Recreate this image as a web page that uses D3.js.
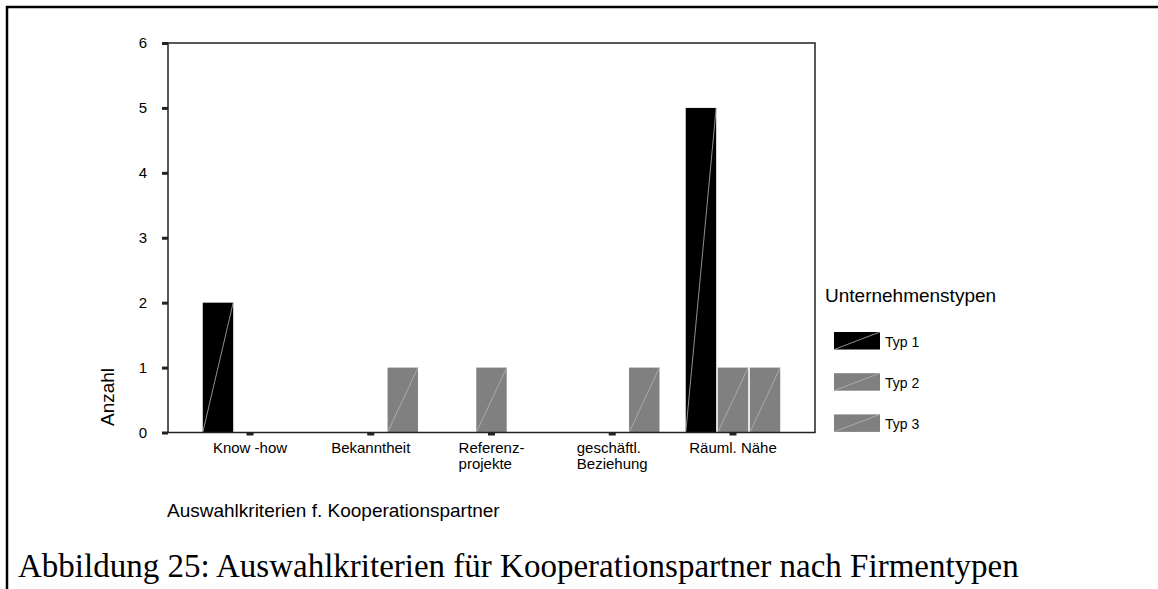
<!DOCTYPE html>
<html>
<head>
<meta charset="utf-8">
<script src="https://cdn.jsdelivr.net/npm/d3@7"></script>
<style>
  body { margin: 0; background: #fff; }
  svg { display: block; }
</style>
</head>
<body>
<div id="chart"></div>
<script>
// chart data
var categories = ["Know -how", "Bekanntheit", "Referenz-\nprojekte", "geschäftl.\nBeziehung", "Räuml. Nähe"];
var types = ["Typ 1", "Typ 2", "Typ 3"];
var typ1 = [2, 0, 0, 0, 5];
var typ2 = [0, 0, 1, 0, 1];
var typ3 = [0, 1, 0, 1, 1];
var yTicks = [0, 1, 2, 3, 4, 5, 6];
var colors = ["#000000", "#808080", "#808080"];

var W = 1158, H = 589;
var box = {left: 168, top: 43, right: 815, bottom: 432.5};
var sans = "'Liberation Sans', Arial, sans-serif";

var svg = d3.select("#chart")
  .append("svg")
    .attr("width", W)
    .attr("height", H);

// page border (left + top)
svg.append("path")
  .attr("d", "M7," + H + "V7H" + W)
  .attr("fill", "none")
  .attr("stroke", "#000")
  .attr("stroke-width", 2.5);

// scales
var x0 = d3.scaleBand()
  .domain(categories)
  .range([box.left, box.right])
  .paddingInner(0.2174)
  .paddingOuter(0.288);

var x1 = d3.scaleBand()
  .domain(types)
  .range([0, x0.bandwidth()])
  .paddingInner(0.05);

var y = d3.scaleLinear()
  .domain([0, 6])
  .range([box.bottom, box.top]);

var color = d3.scaleOrdinal().domain(types).range(colors);

// flatten into rows for drawing
var series = [typ1, typ2, typ3];
var rows = [];
categories.forEach(function(c, i) {
  types.forEach(function(t, j) {
    if (series[j][i] > 0) rows.push({cat: c, type: t, value: series[j][i]});
  });
});

var bars = svg.append("g").selectAll("g")
  .data(rows)
  .enter().append("g");

bars.append("rect")
  .attr("x", function(d) { return x0(d.cat) + x1(d.type); })
  .attr("y", function(d) { return y(d.value); })
  .attr("width", x1.bandwidth())
  .attr("height", function(d) { return y(0) - y(d.value); })
  .attr("fill", function(d) { return color(d.type); });

// the thin diagonal hatch line in each bar
bars.append("line")
  .attr("x1", function(d) { return x0(d.cat) + x1(d.type); })
  .attr("y1", y(0))
  .attr("x2", function(d) { return x0(d.cat) + x1(d.type) + x1.bandwidth(); })
  .attr("y2", function(d) { return y(d.value); })
  .attr("stroke", "#b5b5b5")
  .attr("stroke-width", 0.8);

// frame
svg.append("rect")
  .attr("x", box.left)
  .attr("y", box.top)
  .attr("width", box.right - box.left)
  .attr("height", box.bottom - box.top)
  .attr("fill", "none")
  .attr("stroke", "#222")
  .attr("stroke-width", 1.5);

// y axis
var gy = svg.append("g")
  .attr("transform", "translate(" + box.left + ",0)")
  .call(d3.axisLeft(y).tickValues(yTicks).tickSize(6).tickPadding(15).tickFormat(d3.format("d")));
gy.select(".domain").remove();
gy.selectAll(".tick line").attr("stroke", "#222").attr("stroke-width", 3);
gy.selectAll(".tick text").attr("font-family", sans).attr("font-size", 15).attr("fill", "#000");

// x axis
var gx = svg.append("g")
  .attr("transform", "translate(0," + box.bottom + ")")
  .call(d3.axisBottom(x0).tickSize(3).tickFormat(""));
gx.select(".domain").remove();
gx.selectAll(".tick line").attr("stroke", "#222").attr("stroke-width", 7);

// category labels, multi-line ones left aligned as a block
var labels = svg.append("g").selectAll("text")
  .data(categories)
  .enter().append("text")
    .attr("font-family", sans)
    .attr("font-size", 15)
    .attr("fill", "#000");

labels.each(function(c) {
  var t = d3.select(this);
  var lines = c.split("\n");
  var cx = x0(c) + x0.bandwidth() / 2;
  lines.forEach(function(l, k) {
    t.append("tspan").attr("y", 453 + k * 16).text(l);
  });
  var widest = 0;
  t.selectAll("tspan").each(function() { widest = Math.max(widest, this.getComputedTextLength()); });
  t.selectAll("tspan").attr("x", cx - widest / 2);
});

// axis titles
svg.append("text")
  .attr("x", 167)
  .attr("y", 517)
  .attr("font-family", sans)
  .attr("font-size", 19)
  .text("Auswahlkriterien f. Kooperationspartner");

svg.append("text")
  .attr("transform", "translate(114,397) rotate(-90)")
  .attr("text-anchor", "middle")
  .attr("font-family", sans)
  .attr("font-size", 19)
  .text("Anzahl");

// legend
svg.append("text")
  .attr("x", 825)
  .attr("y", 302)
  .attr("font-family", sans)
  .attr("font-size", 19)
  .text("Unternehmenstypen");

var leg = svg.append("g").selectAll("g")
  .data(types)
  .enter().append("g")
    .attr("transform", function(d, i) { return "translate(834," + (332 + i * 41.2) + ")"; });

leg.append("rect")
  .attr("width", 46)
  .attr("height", 17.5)
  .attr("fill", function(d) { return color(d); });

leg.append("line")
  .attr("x1", 0).attr("y1", 17.5)
  .attr("x2", 46).attr("y2", 0)
  .attr("stroke", "#b5b5b5")
  .attr("stroke-width", 0.8);

leg.append("text")
  .attr("x", 51)
  .attr("y", 14.5)
  .attr("font-family", sans)
  .attr("font-size", 14)
  .text(function(d) { return d; });

// figure caption
svg.append("text")
  .attr("x", 18)
  .attr("y", 577)
  .attr("font-family", "'Liberation Serif', 'Times New Roman', serif")
  .attr("font-size", 33)
  .text("Abbildung 25: Auswahlkriterien für Kooperationspartner nach Firmentypen");
</script>
</body>
</html>
